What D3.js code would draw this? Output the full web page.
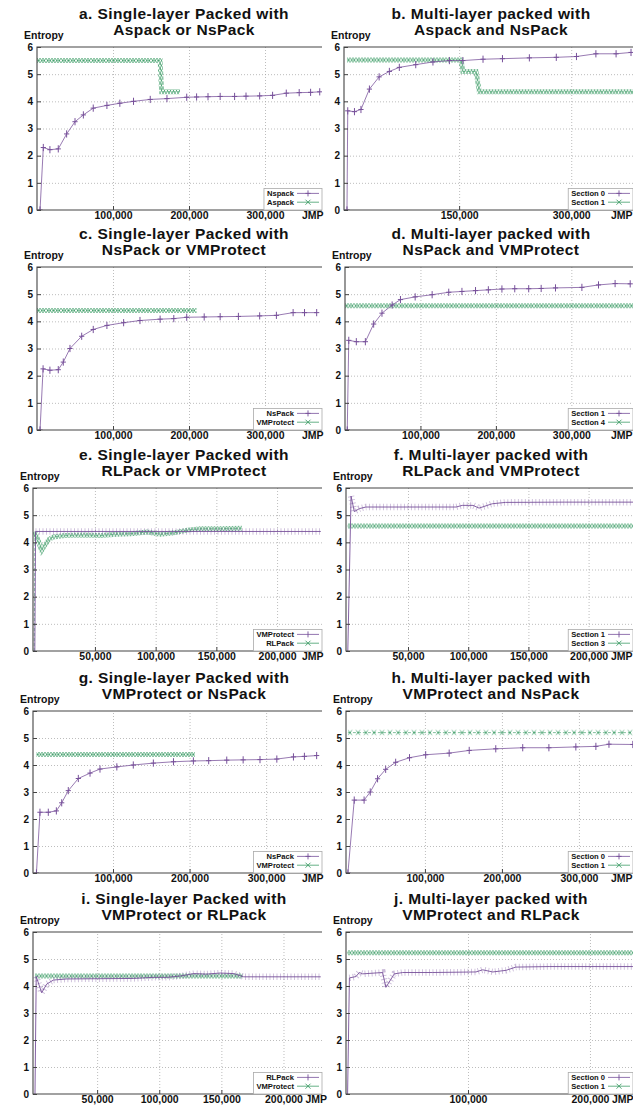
<!DOCTYPE html>
<html><head><meta charset="utf-8">
<script src="https://cdn.jsdelivr.net/npm/d3@7"></script>
<style>
body{margin:0;background:#fff}
svg{display:block}
text{font-family:"Liberation Sans",Arial,Helvetica,sans-serif;font-weight:bold;fill:#111}
</style>
</head><body>
<svg id="c" width="633" height="1105"></svg>
<script>
// ---------- DATA ----------
const titleLines = [
  ["a. Single-layer Packed with","Aspack or NsPack"],
  ["b. Multi-layer packed with","Aspack and NsPack"],
  ["c. Single-layer Packed with","NsPack or VMProtect"],
  ["d. Multi-layer packed with","NsPack and VMProtect"],
  ["e. Single-layer Packed with","RLPack or VMProtect"],
  ["f. Multi-layer packed with","RLPack and VMProtect"],
  ["g. Single-layer Packed with","VMProtect or NsPack"],
  ["h. Multi-layer packed with","VMProtect and NsPack"],
  ["i. Single-layer Packed with","VMProtect or RLPack"],
  ["j. Multi-layer packed with","VMProtect and RLPack"]
];
const legendNames = [
  ["Nspack","Aspack"],["Section 0","Section 1"],["NsPack","VMProtect"],["Section 1","Section 4"],
  ["VMProtect","RLPack"],["Section 1","Section 3"],["NsPack","VMProtect"],["Section 0","Section 1"],
  ["RLPack","VMProtect"],["Section 0","Section 1"]
];
const xTickValues = [
  [100000,200000,300000],[150000,300000],[100000,200000,300000],[100000,200000,300000],
  [50000,100000,150000,200000],[50000,100000,150000,200000],[100000,200000,300000],[100000,200000,300000],
  [50000,100000,150000,200000],[100000,200000]
];
const yTickValues = [0,1,2,3,4,5,6];
const xAxisName = "JMP";
const yAxisName = "Entropy";

// a
const aNspack = [[4000,0],[8300,2.3],[17000,2.22],[28000,2.25],[39000,2.8],[50000,3.25],[61000,3.5],[74000,3.75],[92000,3.85],[109000,3.93],[127000,4.0],[149000,4.07],[171000,4.1],[197000,4.15],[210000,4.16],[225000,4.17],[241000,4.18],[260000,4.18],[275000,4.19],[293000,4.2],[310000,4.22],[328000,4.3],[345000,4.32],[360000,4.33],[372000,4.35]];
const aAspack = [[0,5.5],[162000,5.5],[164000,4.35],[188000,4.35]];
// b
const bSection0 = [[0,0],[1000,3.65],[10000,3.62],[18700,3.7],[30000,4.45],[43000,4.9],[56700,5.1],[70000,5.25],[92000,5.35],[115000,5.45],[137000,5.5],[155000,5.5],[182000,5.55],[208000,5.57],[244000,5.6],[280000,5.62],[307000,5.65],[333000,5.75],[360000,5.75],[380000,5.8]];
const bSection1 = [[0,5.52],[152700,5.52],[155000,5.1],[172700,5.1],[177000,4.35],[392000,4.35]];
// c
const cNsPack = [[4000,0],[8000,2.25],[17000,2.2],[28000,2.22],[34600,2.5],[43400,3.0],[58800,3.45],[74000,3.7],[92000,3.85],[114000,3.95],[135500,4.03],[162000,4.08],[180000,4.1],[197000,4.15],[220000,4.16],[241000,4.17],[265000,4.18],[293000,4.2],[315000,4.22],[337000,4.32],[352000,4.32],[368000,4.32]];
const cVMProtect = [[0,4.4],[210000,4.4]];
// d
const dSection1 = [[3000,0],[5000,3.3],[15000,3.25],[27000,3.25],[38000,3.9],[49000,4.3],[62500,4.6],[73500,4.8],[93000,4.9],[115500,4.98],[137500,5.07],[155000,5.1],[173000,5.13],[190000,5.16],[208000,5.19],[225000,5.2],[243500,5.2],[260000,5.21],[279000,5.23],[314000,5.25],[336000,5.34],[358000,5.39],[378000,5.38]];
const dSection4 = [[0,4.57],[391000,4.57]];
// e
const eVMProtect = [[500,0],[1100,4.4],[236000,4.4]];
const eRLPack = [[0,0],[600,4.4],[3000,4.1],[6100,3.7],[8800,3.9],[12000,4.1],[15700,4.2],[25000,4.25],[40000,4.27],[55000,4.25],[68000,4.3],[80000,4.32],[93000,4.38],[104000,4.3],[115000,4.35],[126000,4.45],[137000,4.5],[153000,4.5],[171000,4.52]];
// f
const fSection1 = [[0,0],[2700,5.7],[5400,5.13],[9600,5.24],[15000,5.3],[40000,5.3],[65000,5.3],[90000,5.3],[95000,5.36],[104000,5.36],[109000,5.26],[120000,5.42],[131000,5.47],[180000,5.48],[237000,5.48]];
const fSection3 = [[0,4.6],[242000,4.6]];
// g
const gNsPack = [[0,0],[4600,2.25],[15500,2.25],[26000,2.3],[33000,2.6],[41600,3.05],[54700,3.5],[70000,3.7],[83000,3.85],[105000,3.93],[126500,4.0],[152700,4.07],[179000,4.12],[205000,4.15],[225000,4.16],[248600,4.18],[270000,4.19],[292000,4.2],[314000,4.22],[335700,4.3],[350000,4.32],[366000,4.35]];
const gVMProtect = [[0,4.39],[207000,4.39]];
// h
const hSection0 = [[0,0],[8200,2.7],[21000,2.7],[29000,3.0],[38500,3.49],[49000,3.84],[62000,4.1],[80000,4.27],[101000,4.38],[131500,4.44],[157500,4.54],[192000,4.6],[227000,4.64],[261000,4.64],[296000,4.67],[322000,4.69],[339000,4.77],[370000,4.76]];
const hSection1 = [[0,5.2],[379000,5.2]];
// i
const iRLPack = [[0,0],[1000,4.35],[5400,3.75],[9400,4.07],[14800,4.22],[25500,4.26],[52000,4.27],[79000,4.28],[95000,4.32],[106000,4.32],[117000,4.37],[128000,4.46],[138000,4.44],[149000,4.48],[160000,4.46],[168000,4.34],[230000,4.34]];
const iVMProtect = [[0,4.37],[167000,4.37]];
// j
const jSection0 = [[1300,0],[2800,4.3],[8200,4.35],[10900,4.5],[13700,4.45],[30000,4.5],[32700,3.95],[39600,4.45],[46500,4.5],[71100,4.5],[106500,4.52],[112000,4.6],[120300,4.52],[131200,4.58],[139200,4.7],[166500,4.72],[235200,4.72]];
const jSection1 = [[1300,5.23],[241000,5.23]];

const purpleSeries = [aNspack,bSection0,cNsPack,dSection1,eVMProtect,fSection1,gNsPack,hSection0,iRLPack,jSection0];
const greenSeries  = [aAspack,bSection1,cVMProtect,dSection4,eRLPack,fSection3,gVMProtect,hSection1,iVMProtect,jSection1];

// ---------- LAYOUT / STYLE ----------
const PURPLE = "#77509a", GREEN = "#3f9d68";
const xDomains = [[0,375000],[-4000,392000],[0,375000],[0,391000],[-1000,237000],[-1500,242700],[-4500,373000],[-2500,379300],[-1600,231000],[0,241000]];
const plotLeft = [37,344,37,345,33,346,33,346,33,346];
const rowTop = [47,267,488,711,932];
const rowBottom = [210,430,651,873,1094];
const colRight = [322,640];
const titleX = [184,491];
const jmpX = [302,611];
const legendTextEnd = [294,605];
const purpleStyle = ["plus","plus","plus","plus","ticks","ticks","plus","plus","ticks","ticks"];
const greenStyle  = ["xband","xband","xband","xband","xband","xband","xband","xsparse","xband","xband"];

const svg = d3.select("#c");
const defs = svg.append("defs");

function drawSeries(g, data, style, color, x, y, pid) {
  const line = d3.line().x(d => x(d[0])).y(d => y(d[1]));
  if (style === "plus") {
    g.append("path").attr("d", line(data)).attr("fill","none").attr("stroke",color).attr("stroke-width",0.9).attr("opacity",0.85);
    g.selectAll(null).data(data).join("path")
      .attr("transform", d => `translate(${x(d[0])},${y(d[1])})`)
      .attr("d","M-2.6,0H2.6M0,-3.6V3.6").attr("stroke",color).attr("stroke-width",1).attr("fill","none");
  } else if (style === "ticks") {
    g.append("path").attr("d", line(data)).attr("fill","none").attr("stroke",color).attr("stroke-width",0.9);
    g.append("path").attr("d", line(data.slice(1))).attr("fill","none").attr("stroke",color).attr("stroke-width",6.5)
      .attr("stroke-dasharray","0.9,2.6").attr("opacity",0.38);
  } else if (style === "xband" || style === "xsparse") {
    const id = "pat" + pid;
    const w = style === "xband" ? 3 : 8, h = style === "xband" ? 5 : 6;
    const p = defs.append("pattern").attr("id", id).attr("patternUnits","userSpaceOnUse")
      .attr("x", x.range()[0]).attr("y", y(data[0][1]) - h/2).attr("width", w).attr("height", h);
    if (style === "xband") p.append("path").attr("d","M0,0L3,5M0,5L3,0").attr("stroke",color).attr("stroke-width",0.75).attr("fill","none");
    else p.append("path").attr("d","M2,0.6L6,5.4M2,5.4L6,0.6").attr("stroke",color).attr("stroke-width",0.8).attr("fill","none");
    const band = data[0][1] === 0 ? data.slice(1) : data;
    g.append("path").attr("d", line(band)).attr("fill","none").attr("stroke",`url(#${id})`).attr("stroke-width",h);
    g.append("path").attr("d", line(data)).attr("fill","none").attr("stroke",color).attr("stroke-width",0.8)
      .attr("stroke-dasharray","3,2").attr("opacity",0.8);
  }
}

function legendSample(g, style, color, x0, x1, yy) {
  g.append("line").attr("x1",x0).attr("x2",x1).attr("y1",yy).attr("y2",yy).attr("stroke",color).attr("stroke-width",0.8);
  const cx = (x0+x1)/2;
  let d;
  if (style === "plus") d = "M-2.6,0H2.6M0,-3V3";
  else if (style === "ticks") d = "M0,-3V3";
  else d = "M-2.5,-2.5L2.5,2.5M-2.5,2.5L2.5,-2.5";
  g.append("path").attr("transform",`translate(${cx},${yy})`).attr("d",d).attr("stroke",color).attr("stroke-width",0.9).attr("fill","none");
}

for (let i = 0; i < 10; i++) {
  const col = i % 2, row = Math.floor(i / 2);
  const L = plotLeft[i], R = colRight[col], T = rowTop[row], B = rowBottom[row];
  const x = d3.scaleLinear(xDomains[i], [L, R]);
  const y = d3.scaleLinear([0, 6], [B, T]);
  const g = svg.append("g");

  // titles
  g.append("text").attr("x", titleX[col]).attr("y", T - 28.5).attr("text-anchor","middle")
    .style("font-size","15.5px").style("letter-spacing","0.4px").text(titleLines[i][0]);
  g.append("text").attr("x", titleX[col]).attr("y", T - 12).attr("text-anchor","middle")
    .style("font-size","15.5px").style("letter-spacing","0.4px").text(titleLines[i][1]);
  g.append("text").attr("x", L - 13).attr("y", T - 8).style("font-size","10.5px").text(yAxisName);

  // grid
  g.append("g").attr("transform",`translate(0,${B})`)
    .call(d3.axisBottom(x).tickValues(xTickValues[i]).tickSize(-(B - T)).tickFormat(""))
    .call(s => { s.select(".domain").remove(); s.selectAll("line").attr("stroke","#a0a0a0").attr("stroke-dasharray","1,2").attr("stroke-width",0.7); });
  g.append("g").attr("transform",`translate(${L},0)`)
    .call(d3.axisLeft(y).tickValues([1,2,3,4,5]).tickSize(-(R - L)).tickFormat(""))
    .call(s => { s.select(".domain").remove(); s.selectAll("line").attr("stroke","#a0a0a0").attr("stroke-dasharray","1,2").attr("stroke-width",0.7); });

  // series (clipped)
  const cid = "clip" + i;
  defs.append("clipPath").attr("id", cid).append("rect").attr("x", L).attr("y", T - 5).attr("width", R - L).attr("height", B - T + 5);
  const sg = g.append("g").attr("clip-path", `url(#${cid})`);
  drawSeries(sg, greenSeries[i], greenStyle[i], GREEN, x, y, "g" + i);
  drawSeries(sg, purpleSeries[i], purpleStyle[i], PURPLE, x, y, "p" + i);

  // border (left, top, bottom)
  g.append("path").attr("d", `M${R},${T}H${L}V${B}H${R}`).attr("fill","none").attr("stroke","#444").attr("stroke-width",1.1);

  // axes
  const xa = g.append("g").attr("transform",`translate(0,${B})`)
    .call(d3.axisBottom(x).tickValues(xTickValues[i]).tickFormat(d3.format(",")).tickSizeInner(-4).tickSizeOuter(0).tickPadding(1.5))
    .call(s => { s.select(".domain").remove(); s.selectAll("line").attr("stroke","#444");
      s.selectAll("text").attr("fill","#111").style("font-size","10.5px").style("font-family",null); });
  g.append("g").attr("transform",`translate(${L},0)`)
    .call(d3.axisLeft(y).tickValues(yTickValues).tickFormat(d3.format("d")).tickSizeInner(-4).tickSizeOuter(0).tickPadding(4))
    .call(s => { s.select(".domain").remove(); s.selectAll("line").attr("stroke","#444");
      s.selectAll("text").attr("fill","#111").style("font-size","10px").style("font-family",null); });
  // JMP after the last tick label
  const lastTick = xTickValues[i][xTickValues[i].length - 1];
  const lastW = xa.selectAll("text").filter(d => d === lastTick).node().getComputedTextLength();
  const jx = Math.max(jmpX[col], x(lastTick) + lastW / 2 + 3);
  g.append("text").attr("x", jx).attr("y", B + 9).style("font-size","10.5px").text(xAxisName);

  // legend
  const lg = g.append("g");
  const te = legendTextEnd[col];
  const rowsY = [B - 13.8, B - 5];
  const box = lg.append("rect").attr("fill","#fff").attr("stroke","#aaa").attr("stroke-width",0.8);
  let maxW = 0;
  const styles = [purpleStyle[i], greenStyle[i]], colors = [PURPLE, GREEN];
  legendNames[i].forEach((nm, k) => {
    const t = lg.append("text").attr("x", te).attr("y", rowsY[k]).attr("text-anchor","end").style("font-size","7.6px").text(nm);
    maxW = Math.max(maxW, t.node().getComputedTextLength());
    legendSample(lg, styles[k], colors[k], te + 3, te + 25, rowsY[k] - 2.8);
  });
  box.attr("x", te - maxW - 3).attr("y", B - 21.5).attr("width", Math.min(R, te + 28) - (te - maxW - 3)).attr("height", 21.5);
}
</script>
</body></html>
